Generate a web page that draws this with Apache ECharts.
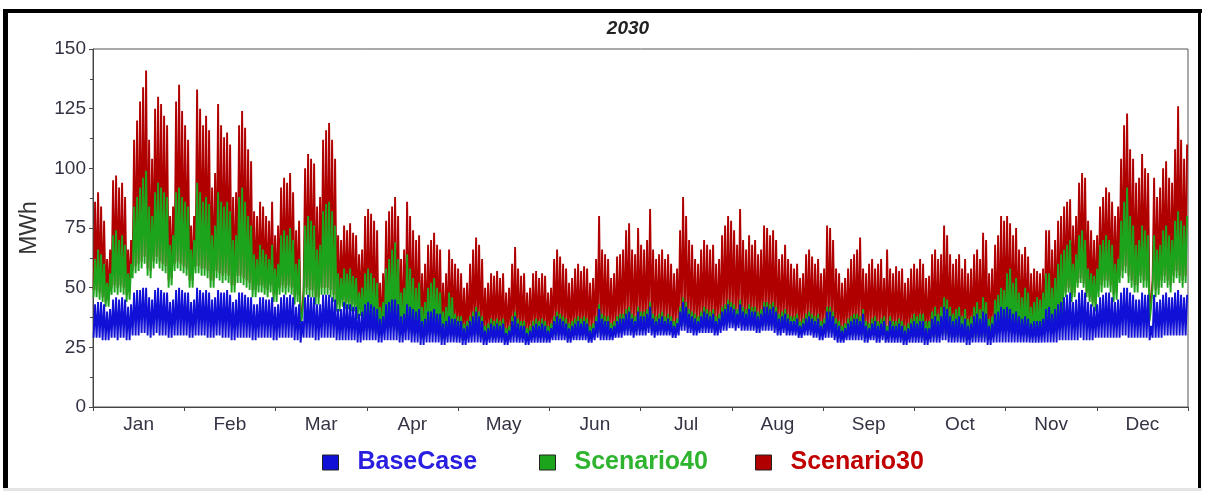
<!DOCTYPE html>
<html>
<head>
<meta charset="utf-8">
<script src="https://cdn.jsdelivr.net/npm/echarts@6/dist/echarts.min.js"></script>
<style>
  html, body { margin: 0; padding: 0; background: #ffffff; }
  #chart { width: 1209px; height: 491px; }
</style>
</head>
<body>
<div id="chart"></div>
<script>
// Month labels along the bottom axis
const months = ['Jan', 'Feb', 'Mar', 'Apr', 'May', 'Jun', 'Jul', 'Aug', 'Sep', 'Oct', 'Nov', 'Dec'];
const yTicks = [0, 25, 50, 75, 100, 125, 150];

// Daily minimum / maximum hourly energy (MWh), one value per day of 2030
const baseCaseLow = [
  29,29,29,28,28,28,29,29,28,29,29,28,28,30,30,30,31,31,30,29,30,31,30,30,30,29,29,30,30,30,30, // Jan
  30,29,29,30,30,30,30,29,29,29,30,30,29,29,29,28,28,29,29,29,29,29,28,28,29,29,29,29, // Feb
  29,28,28,29,29,29,29,29,28,28,27,29,29,29,29,28,28,29,29,29,29,29,28,28,28,28,28,28,28,27,27, // Mar
  28,28,28,28,28,27,27,28,28,28,28,28,27,27,28,28,27,27,27,26,26,27,27,27,27,27,26,26,27,27, // Apr
  27,27,27,26,26,27,27,27,27,27,26,26,27,27,27,27,27,26,26,27,27,27,27,27,26,26,27,27,27,27,27, // May
  27,27,28,28,28,28,28,27,27,28,28,28,28,28,27,27,28,29,28,28,28,28,28,29,29,29,30,30,30,29, // Jun
  30,30,30,30,31,30,29,30,30,30,30,30,29,29,30,32,32,31,31,30,30,31,31,31,31,31,30,30,31,32,32, // Jul
  33,33,32,33,32,32,32,32,32,31,31,32,32,32,32,31,30,30,31,30,30,30,30,29,29,30,30,30,29,29,28, // Aug
  28,29,29,29,28,27,27,27,28,28,28,28,28,28,27,27,28,28,27,27,28,27,27,27,27,27,27,26,26,27, // Sep
  27,27,27,27,26,26,27,27,27,27,28,28,27,27,27,27,27,27,26,26,27,27,27,27,27,26,26,27,27,27,27, // Oct
  27,27,27,27,27,27,27,27,27,27,27,27,27,27,27,27,27,27,28,28,28,28,28,28,28,29,28,28,28,28, // Nov
  29,29,29,29,29,29,29,29,29,30,30,29,29,29,29,29,29,29,28,29,29,29,29,30,30,30,30,30,30,30,30  // Dec
];
const baseCaseHigh = [
  43,44,44,43,40,41,45,46,45,46,45,42,43,48,49,49,50,50,46,45,49,50,49,48,48,44,45,49,50,49,48,
  48,44,45,50,49,48,49,48,45,46,49,48,48,49,47,44,45,48,48,47,46,46,43,43,46,46,45,45,
  46,42,43,46,47,46,47,46,42,43,36,46,47,46,46,43,43,47,47,47,46,45,41,41,44,43,43,42,42,39,40,
  43,44,43,42,41,37,38,43,44,45,45,43,38,39,43,42,41,40,41,36,37,40,40,41,39,39,35,36,38,37,
  37,36,36,33,34,36,38,40,38,36,32,33,35,34,35,34,35,31,32,36,38,35,34,34,31,32,34,35,34,35,34,
  32,33,36,38,37,36,35,33,34,35,36,35,36,35,32,33,36,41,37,36,36,33,34,36,37,37,39,40,37,36,
  40,38,38,39,42,37,36,37,38,36,37,36,34,35,40,44,42,39,38,37,36,38,40,39,38,39,36,37,40,41,43,
  42,41,39,43,40,39,41,40,40,38,39,42,42,41,42,40,37,38,39,37,36,36,37,34,35,37,38,37,36,37,34,
  35,40,40,38,35,34,32,33,35,36,37,37,36,39,34,33,35,36,34,35,36,32,36,34,34,35,34,32,33,35,
  36,35,36,36,33,33,37,38,36,38,42,41,38,36,37,38,35,37,34,35,38,39,37,40,39,34,35,39,40,42,41,
  42,41,39,40,38,37,38,37,35,36,36,36,37,41,42,39,41,43,44,46,47,48,44,45,48,49,48,44,43,42,
  43,46,47,48,48,46,44,45,48,50,50,48,47,45,45,48,47,47,34,47,44,45,47,48,46,46,48,49,47,46,47
];
const scenario40Low = [
  46,46,45,44,42,42,47,48,47,48,47,44,45,54,56,57,58,60,55,54,58,60,58,57,56,50,51,57,58,57,56,
  55,50,50,56,56,55,55,54,50,50,54,53,52,53,52,48,48,52,52,51,50,49,46,46,48,48,47,46,
  48,44,44,47,48,47,48,47,43,44,34,46,47,46,46,43,43,47,47,47,46,44,40,40,42,41,41,40,40,37,38,
  32,32,32,32,31,30,30,32,33,33,34,32,30,30,32,32,31,30,31,29,29,30,30,31,30,30,28,29,30,30,
  30,29,29,28,28,29,30,30,30,29,28,28,29,29,29,29,29,28,28,29,30,29,29,29,28,28,29,29,29,29,29,
  29,29,30,30,30,30,30,29,29,30,30,30,30,30,29,29,30,31,30,30,30,30,30,31,31,31,32,32,32,31,
  32,32,32,32,33,32,31,32,32,32,32,32,31,31,32,34,34,33,33,32,32,33,33,33,33,33,32,32,33,34,34,
  35,35,34,35,34,34,34,34,34,33,33,34,34,34,34,33,32,32,33,32,32,32,32,31,31,32,32,32,31,31,30,
  30,31,31,31,30,29,29,29,30,30,30,30,30,30,29,29,30,30,29,29,30,29,29,29,29,29,29,28,28,29,
  29,29,29,29,28,28,29,29,29,29,30,30,29,29,29,29,29,29,28,28,29,29,29,29,29,28,28,29,30,31,31,
  32,32,31,31,30,30,30,30,29,29,30,30,30,32,32,31,32,34,36,38,46,48,44,46,50,52,50,46,44,42,
  40,46,48,50,50,48,44,45,52,54,56,52,50,48,48,52,50,50,36,50,46,47,50,52,50,48,52,54,52,50,52
];
const scenario40High = [
  62,66,64,60,52,56,72,74,70,72,68,56,60,84,88,92,96,99,84,80,90,94,92,90,88,68,72,90,92,88,86,
  84,66,70,94,90,86,88,85,72,76,90,86,84,86,82,70,72,88,92,86,80,76,64,62,68,66,64,62,
  68,58,60,72,74,72,75,70,60,62,38,76,80,78,76,66,68,82,85,86,82,76,56,54,58,56,58,55,54,48,50,
  56,58,56,54,52,42,44,58,62,66,69,62,48,50,64,58,54,50,52,42,44,50,52,54,50,48,40,42,48,46,
  39,38,38,35,36,38,40,42,40,38,34,35,37,36,37,36,37,33,34,38,40,37,36,36,33,34,36,37,36,37,36,
  34,35,38,40,39,38,37,35,36,37,38,37,38,37,34,35,38,43,39,38,38,35,36,38,39,39,41,42,39,38,
  42,40,40,41,44,39,38,39,40,38,39,38,36,37,42,46,44,41,40,39,38,40,42,41,40,41,38,39,42,43,45,
  44,43,41,45,42,41,43,42,42,40,41,44,44,43,44,42,39,40,41,39,38,38,39,36,37,39,40,39,38,39,36,
  37,42,42,40,37,36,34,35,37,38,39,39,38,41,36,35,37,38,36,37,38,34,38,36,36,37,36,34,35,37,
  39,38,39,39,36,36,40,42,39,42,46,45,42,39,41,42,38,41,37,38,42,44,41,46,44,37,38,45,47,50,49,
  56,58,52,54,48,46,50,48,42,44,46,45,48,56,56,50,54,60,64,66,68,70,60,64,72,74,70,58,56,55,
  58,68,70,72,70,68,60,62,78,86,92,80,76,68,70,76,74,72,42,72,66,68,74,76,72,70,78,82,78,76,80
];
const scenario30Low = [
  49,49,48,46,44,45,50,51,50,51,50,47,48,57,59,60,61,63,58,57,61,63,61,60,59,53,54,60,61,60,59,
  58,53,53,59,59,58,58,57,53,53,57,56,55,56,55,51,51,55,55,54,53,52,49,49,51,51,50,49,
  51,47,47,50,51,50,51,50,46,47,35,49,50,49,49,46,46,50,50,50,49,47,43,43,45,44,44,43,43,40,41,
  33,33,33,33,32,31,31,33,34,34,35,33,31,31,33,33,32,31,32,30,30,31,31,32,31,31,29,30,31,31,
  31,30,30,29,29,30,31,31,31,30,29,29,30,30,30,30,30,29,29,30,31,30,30,30,29,29,30,30,30,30,30,
  30,30,31,31,31,31,31,30,30,31,31,31,31,31,30,30,31,32,31,31,31,31,31,32,32,32,33,33,33,32,
  33,33,33,33,34,33,32,33,33,33,33,33,32,32,33,35,35,34,34,33,33,34,34,34,34,34,33,33,34,35,35,
  36,36,35,36,35,35,35,35,35,34,34,35,35,35,35,34,33,33,34,33,33,33,33,32,32,33,33,33,32,32,31,
  31,32,32,32,31,30,30,30,31,31,31,31,31,31,30,30,31,31,30,30,31,30,30,30,30,30,30,29,29,30,
  30,30,30,30,29,29,30,30,30,30,31,31,30,30,30,30,30,30,29,29,30,30,30,30,30,29,29,30,31,32,32,
  34,34,33,33,32,32,32,32,31,31,32,32,32,34,34,33,34,36,38,40,48,50,46,48,52,54,52,48,46,44,
  43,49,51,53,53,51,47,48,55,57,59,55,53,51,51,55,53,53,38,53,49,50,53,55,53,51,55,57,55,53,55
];
const scenario30High = [
  86,90,84,78,62,66,95,97,92,94,88,66,70,112,120,128,134,141,112,104,125,130,127,122,118,80,84,128,135,124,118,
  112,76,80,133,125,118,122,116,92,98,127,118,113,115,110,88,90,118,124,117,108,103,82,80,86,84,80,78,
  86,72,76,92,96,94,98,90,74,78,40,100,106,104,102,84,88,112,116,119,112,104,72,70,76,74,77,73,72,64,66,
  80,83,81,78,74,52,56,78,82,84,88,80,62,66,86,80,74,70,72,56,60,68,70,73,68,66,52,56,66,62,
  60,58,56,50,52,60,66,71,68,62,50,52,56,55,57,54,56,48,50,60,67,58,55,56,48,50,56,57,54,56,55,
  48,50,62,66,63,60,58,52,54,58,60,57,59,58,52,54,62,80,66,64,62,54,56,63,64,66,74,77,66,64,
  75,68,66,70,83,66,62,64,66,62,64,60,56,58,74,88,80,70,68,62,60,66,70,68,66,68,60,62,72,76,80,
  78,74,68,83,70,66,72,68,70,64,66,76,75,72,74,70,62,64,68,62,60,58,60,54,56,64,66,63,60,62,56,
  58,76,75,70,58,56,52,54,58,62,64,66,71,58,56,60,62,58,60,62,54,66,58,56,59,57,58,52,54,58,
  60,58,62,60,54,55,64,66,62,64,76,72,64,60,62,64,58,62,56,58,64,66,62,73,70,56,58,68,72,80,78,
  80,77,72,75,66,64,67,63,56,58,57,56,58,74,74,66,70,78,80,84,86,87,76,80,94,98,96,78,74,70,
  72,84,88,92,90,86,80,84,104,118,123,108,104,94,96,106,100,98,45,96,88,92,100,103,96,94,108,126,112,104,110
];

const COLORS = { base: '#1010d6', s40: '#1ca41c', s30: '#b00000' };
const FONT = '"Liberation Sans", Arial, sans-serif';

// Each day contributes its night-time low and its daytime peak, so the
// trace swings between the two like the underlying hourly profile.
function dailySwing(lo, hi) {
  const pts = [];
  for (let i = 0; i < lo.length; i++) {
    pts.push([i + 0.2, lo[i]]);
    pts.push([i + 0.7, hi[i]]);
  }
  return pts;
}
function swingSeries(name, lo, hi, color, z) {
  return {
    type: 'line',
    name: name,
    xAxisIndex: 0,
    yAxisIndex: 0,
    z: z,
    clip: true,
    showSymbol: false,
    symbol: 'none',
    silent: true,
    color: color,
    lineStyle: { color: color, width: 1.9 },
    data: dailySwing(lo, hi)
  };
}

// One legend block per series so each swatch sits at its own position
const legendStyle = { fontFamily: FONT, fontSize: 25, fontWeight: 'bold', padding: [0, 0, 0, 14] };
function legendBlock(name, left, fill, textColor) {
  return {
    left: left,
    top: 450,
    padding: 0,
    itemWidth: 16,
    itemHeight: 15,
    selectedMode: false,
    textStyle: Object.assign({}, legendStyle, { color: textColor }),
    data: [{ name: name, icon: 'rect', itemStyle: { color: fill, borderColor: '#222222', borderWidth: 1 } }]
  };
}

const chart = echarts.init(document.getElementById('chart'), null, { renderer: 'canvas' });
chart.setOption({
  animation: false,
  backgroundColor: '#ffffff',
  title: {
    text: '2030',
    left: 628,
    top: 19,
    textAlign: 'center',
    padding: 0,
    textStyle: { fontFamily: FONT, fontSize: 19, fontWeight: 'bold', fontStyle: 'italic', color: '#222222' }
  },
  grid: {
    left: 93, right: 21, top: 49, bottom: 84,
    show: true, borderColor: '#555555', borderWidth: 1, backgroundColor: '#ffffff'
  },
  legend: [
    legendBlock('BaseCase', 322, COLORS.base, '#2a1fe0'),
    legendBlock('Scenario40', 539, COLORS.s40, '#2eb42e'),
    legendBlock('Scenario30', 755, COLORS.s30, '#c00000')
  ],
  xAxis: [
    { type: 'value', min: 0, max: 365, show: false },
    {
      type: 'category',
      data: months,
      position: 'bottom',
      boundaryGap: true,
      axisLine: { show: true, lineStyle: { color: '#444444', width: 1 } },
      axisTick: { show: true, interval: 0, length: 4, lineStyle: { color: '#444444' } },
      axisLabel: { fontFamily: FONT, fontSize: 19, color: '#333344', margin: 8 },
      splitLine: { show: false }
    }
  ],
  yAxis: {
    type: 'value',
    min: yTicks[0],
    max: yTicks[yTicks.length - 1],
    interval: 25,
    name: 'MWh',
    nameLocation: 'middle',
    nameGap: 52,
    nameRotate: 90,
    nameTextStyle: { fontFamily: FONT, fontSize: 23, color: '#333333' },
    axisLine: { show: true, lineStyle: { color: '#444444', width: 1 } },
    axisTick: { show: true, length: 4, lineStyle: { color: '#444444' } },
    minorTick: { show: true, splitNumber: 2, length: 3, lineStyle: { color: '#444444' } },
    axisLabel: { fontFamily: FONT, fontSize: 19, color: '#333344', margin: 7 },
    splitLine: { show: false }
  },
  series: [
    swingSeries('Scenario30', scenario30Low, scenario30High, COLORS.s30, 1),
    swingSeries('Scenario40', scenario40Low, scenario40High, COLORS.s40, 2),
    swingSeries('BaseCase', baseCaseLow, baseCaseHigh, COLORS.base, 3)
  ],
  graphic: [
    // page frame
    { type: 'rect', left: 3, top: 9, shape: { width: 5, height: 482 }, style: { fill: '#000000' }, silent: true },
    { type: 'rect', left: 3, top: 9, shape: { width: 1199, height: 4 }, style: { fill: '#000000' }, silent: true },
    { type: 'rect', left: 1198, top: 9, shape: { width: 3, height: 482 }, style: { fill: '#000000' }, silent: true },
    { type: 'rect', left: 3, top: 488, shape: { width: 1199, height: 3 }, style: { fill: '#e4e4e4' }, silent: true }
  ]
});
</script>
</body>
</html>
